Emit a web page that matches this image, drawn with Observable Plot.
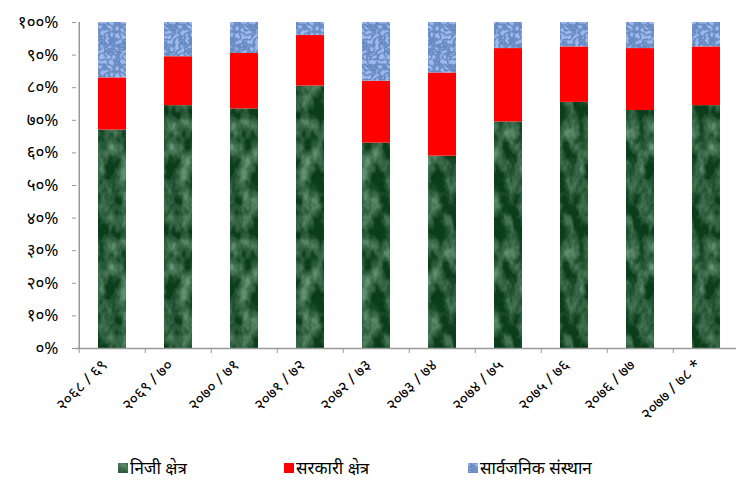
<!DOCTYPE html>
<html>
<head>
<meta charset="utf-8">
<script src="https://cdn.jsdelivr.net/npm/d3@7"></script>
<script src="https://cdn.jsdelivr.net/npm/@observablehq/plot@0.6"></script>
<style>
  body { margin: 0; background: #fff; font-family: "Noto Sans", "DejaVu Sans", sans-serif; }
  #legend { height: 35px; position: relative; }
  .item { position: absolute; top: 6px; display: flex; align-items: center; font-size: 17px; color: #000; }
  .item svg { margin-right: 2px; }
</style>
</head>
<body>
<div id="chart"></div>
<div id="legend"></div>
<script>
const categories = ["२०६८ / ६९", "२०६९ / ७०", "२०७० / ७१", "२०७१ / ७२", "२०७२ / ७३", "२०७३ / ७४", "२०७४ / ७५", "२०७५ / ७६", "२०७६ / ७७", "२०७७ / ७८ *"];
const seriesNames = ["निजी क्षेत्र", "सरकारी क्षेत्र", "सार्वजनिक संस्थान"];
const privateSector = [67, 74.5, 73.5, 80.5, 63, 59, 69.5, 75.5, 73, 74.5];
const governmentSector = [16, 15, 17, 15.5, 19, 25.5, 22.5, 17, 19, 18];
const publicEnterprise = [17, 10.5, 9.5, 4, 18, 15.5, 8, 7.5, 8, 7.5];
const yTicks = [0, 0.1, 0.2, 0.3, 0.4, 0.5, 0.6, 0.7, 0.8, 0.9, 1.0];

const devDigits = "०१२३४५६७८९";
const toDev = s => String(s).replace(/[0-9]/g, d => devDigits[+d]);

const seriesValues = [privateSector, governmentSector, publicEnterprise];
const data = [];
categories.forEach((c, i) => {
  const total = seriesValues.reduce((a, s) => a + s[i], 0);
  seriesNames.forEach((name, k) => data.push({year: c, sector: name, value: seriesValues[k][i] / total}));
});

const fills = ["url(#pGreen)", "#ff0000", "url(#pBlue)"];
const step = 66.5;

const chart = Plot.plot({
  width: 736,
  height: 450,
  marginLeft: 76,
  marginRight: 0,
  marginTop: 22,
  marginBottom: 102,
  x: {domain: categories, range: [76, 741], paddingInner: 0.58, paddingOuter: 0.29, axis: null, label: null},
  y: {domain: [0, 1], axis: null, label: null},
  color: {domain: seriesNames, range: fills},
  marks: [
    Plot.barY(data, {x: "year", y: "value", fill: "sector", order: seriesNames}),
    Plot.ruleY([0], {stroke: "#999", strokeWidth: 1.5}),
    Plot.ruleX([categories[0]], {dx: -step / 2, y1: 0, y2: 1, stroke: "#999", strokeWidth: 1.5}),
    Plot.axisY({ticks: yTicks, tickSize: 4, tickPadding: 14, stroke: "#999", fill: "#000", fontSize: 17, label: null,
      tickFormat: d => toDev(Math.round(d * 100)) + "%"}),
    Plot.axisX({ticks: categories, tickSize: 5, dx: -step / 2, stroke: "#999", tickFormat: () => "", label: null}),
    Plot.axisX({ticks: categories, tickSize: 0, tickRotate: -45, tickPadding: 14, dx: -8, fontSize: 16, fill: "#000", label: null})
  ]
});

// textures
const defs = `
<defs>
  <filter id="fGreen" x="0" y="0" width="60" height="120" filterUnits="userSpaceOnUse">
    <feTurbulence type="fractalNoise" baseFrequency="0.06 0.04" numOctaves="4" seed="7" stitchTiles="stitch"/>
    <feColorMatrix type="matrix" values="0 0 0 0 0.24  0 0 0 0 0.46  0 0 0 0 0.31  1.8 0 0 0 -0.65"/>
  </filter>
  <pattern id="pGreen" patternUnits="userSpaceOnUse" width="60" height="120">
    <rect width="60" height="120" fill="#0c3d1b"/>
    <rect width="60" height="120" fill="#000" filter="url(#fGreen)"/>
  </pattern>
  <filter id="fBlue" x="0" y="0" width="40" height="40" filterUnits="userSpaceOnUse">
    <feTurbulence type="turbulence" baseFrequency="0.2" numOctaves="2" seed="4" stitchTiles="stitch"/>
    <feColorMatrix type="matrix" values="0 0 0 0 0.14  0 0 0 0 0.26  0 0 0 0 0.55  -4 0 0 0 1.7"/>
  </filter>
  <pattern id="pBlue" patternUnits="userSpaceOnUse" width="40" height="40">
    <rect width="40" height="40" fill="#9cb8ec"/>
    <rect width="40" height="40" fill="#000" filter="url(#fBlue)"/>
  </pattern>
</defs>`;
chart.insertAdjacentHTML("afterbegin", defs);
chart.style.fontFamily = '"Noto Sans", "DejaVu Sans", sans-serif';
document.getElementById("chart").appendChild(chart);

// legend
const legend = document.getElementById("legend");
const legendX = [118, 284, 468];
seriesNames.forEach((name, k) => {
  const div = document.createElement("div");
  div.className = "item";
  div.style.left = legendX[k] + "px";
  div.innerHTML = `<svg width="10" height="10"><rect width="10" height="10" fill="${fills[k]}"/></svg><span>${name}</span>`;
  legend.appendChild(div);
});
</script>
</body>
</html>
